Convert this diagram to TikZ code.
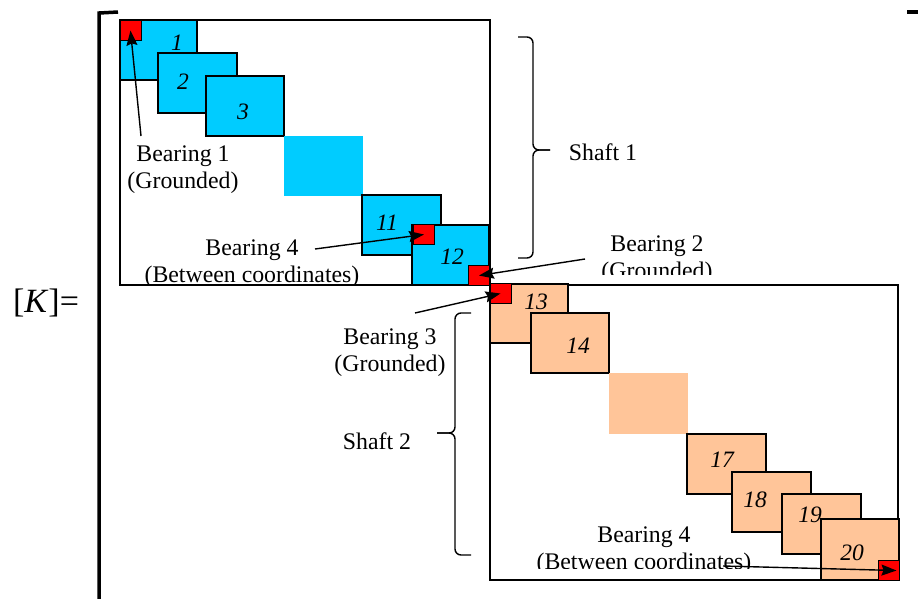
\documentclass[tikz,border=0pt]{standalone}
\usepackage{fontspec}
\setmainfont{Liberation Serif}
\usetikzlibrary{arrows.meta}

\definecolor{shaftblue}{HTML}{00CCFF}
\definecolor{shaftpeach}{HTML}{FFC599}

\begin{document}
\begin{tikzpicture}[x=1pt, y=-1pt,
    frame/.style={draw=black, line width=1.4pt, fill=white},
    blk/.style={draw=black, line width=1.4pt},
    brg/.style={draw=black, fill=red, line width=1pt, minimum width=21pt, minimum height=20pt, inner sep=0pt},
    lbl/.style={font=\fontsize{23.8}{27}\selectfont, align=center, inner sep=0pt},
    num/.style={font=\fontsize{23.5}{27}\selectfont\itshape, inner sep=0pt},
    pointer/.style={-{Stealth[length=15pt, width=11pt, inset=2pt]}, line width=1.4pt},
    curly/.style={line width=1.4pt, rounded corners=6pt}]
    \useasboundingbox (0,0) rectangle (918,598);

    % Matrix bracket
    \node (kmat) at (46,303) [font=\fontsize{34}{40}\selectfont, inner sep=0pt] {[\textit{K}]=};
    \draw[line width=3.5pt] (118,12) -- (99,13) -- (99,602);
    \draw[line width=3.5pt] (907,12) -- (922,12);

    % Frames of the two shafts
    \draw[frame] (120,20) rectangle (490,285);
    \draw[frame] (490,285) rectangle (898,580);

    % Shaft 1 blocks
    \draw[blk, fill=shaftblue] (120,20) rectangle (197,80);
    \draw[blk, fill=shaftblue] (158,53) rectangle (237,113);
    \draw[blk, fill=shaftblue] (206,76) rectangle (284,136);
    \fill[shaftblue] (284,136) rectangle (363,196);
    \draw[blk, fill=shaftblue] (362,195) rectangle (441,255);
    \draw[blk, fill=shaftblue] (412,225) rectangle (489,285);

    % Shaft 2 blocks
    \draw[blk, fill=shaftpeach] (490,284) rectangle (568,343);
    \draw[blk, fill=shaftpeach] (531,313) rectangle (609,373);
    \fill[shaftpeach] (609,373) rectangle (688,434);
    \draw[blk, fill=shaftpeach] (687,434) rectangle (766,494);
    \draw[blk, fill=shaftpeach] (732,472) rectangle (811,532);
    \draw[blk, fill=shaftpeach] (782,494) rectangle (861,554);
    \draw[blk, fill=shaftpeach] (821,519) rectangle (899,580);

    % Block numbers
    \node (n1) at (177,43) [num] {1};
    \node (n2) at (183,82) [num] {2};
    \node (n3) at (243,112) [num] {3};
    \node (n11) at (387,223) [num] {11};
    \node (n12) at (452,257) [num] {12};
    \node (n13) at (536,302) [num] {13};
    \node (n14) at (578,346) [num] {14};
    \node (n17) at (722,460) [num] {17};
    \node (n18) at (755,500) [num] {18};
    \node (n19) at (810,515) [num] {19};
    \node (n20) at (852,553) [num] {20};

    % Bearings
    \node (brgA) at (130.5,30.5) [brg] {};
    \node (brgD) at (424,234.5) [brg] {};
    \node (brgB) at (479,275.5) [brg] {};
    \node (brgC) at (500.5,293.5) [brg] {};
    \node (brgE) at (888.5,570.5) [brg] {};

    % Bearing labels
    \node (txtA) at (183,170) [lbl] {Bearing 1\\(Grounded)};
    \begin{scope}
        \clip (130,228) rectangle (380,284);
        \node (txtD) at (252,264) [lbl] {Bearing 4\\(Between coordinates)};
    \end{scope}
    \begin{scope}
        \clip (590,225) rectangle (740,274);
        \node (txtB) at (657,260) [lbl] {Bearing 2\\(Grounded)};
    \end{scope}
    \node (txtC) at (390,353) [lbl] {Bearing 3\\(Grounded)};
    \begin{scope}
        \clip (520,515) rectangle (770,568);
        \node (txtE) at (644,551) [lbl] {Bearing 4\\(Between coordinates)};
    \end{scope}

    % Arrows to the bearings
    \coordinate (tailA) at (141,136);
    \coordinate (tailD) at (315,249);
    \coordinate (tailB) at (585,259);
    \coordinate (tailC) at (415,313);
    \coordinate (tailE) at (723,566);
    \draw[pointer] (tailA) -- (brgA.center);
    \draw[pointer] (tailD) -- (brgD.center);
    \draw[pointer] (tailB) -- (brgB.center);
    \draw[pointer] (tailC) -- (brgC.center);
    \draw[pointer] (tailE) -- ([xshift=-3pt]brgE.east);

    % Shaft braces
    \coordinate (tipA) at (550,150);
    \coordinate (tipB) at (437,433);
    \draw[curly] (518,37) -| (533,150) -- (tipA);
    \draw[curly] (518,258) -| (533,150) -- (tipA);
    \draw[curly] (471,313) -| (455,433) -- (tipB);
    \draw[curly] (471,555) -| (455,433) -- (tipB);
    \node (shaftA) at (603,152) [lbl] {Shaft 1};
    \node (shaftB) at (377,441) [lbl] {Shaft 2};
\end{tikzpicture}
\end{document}
